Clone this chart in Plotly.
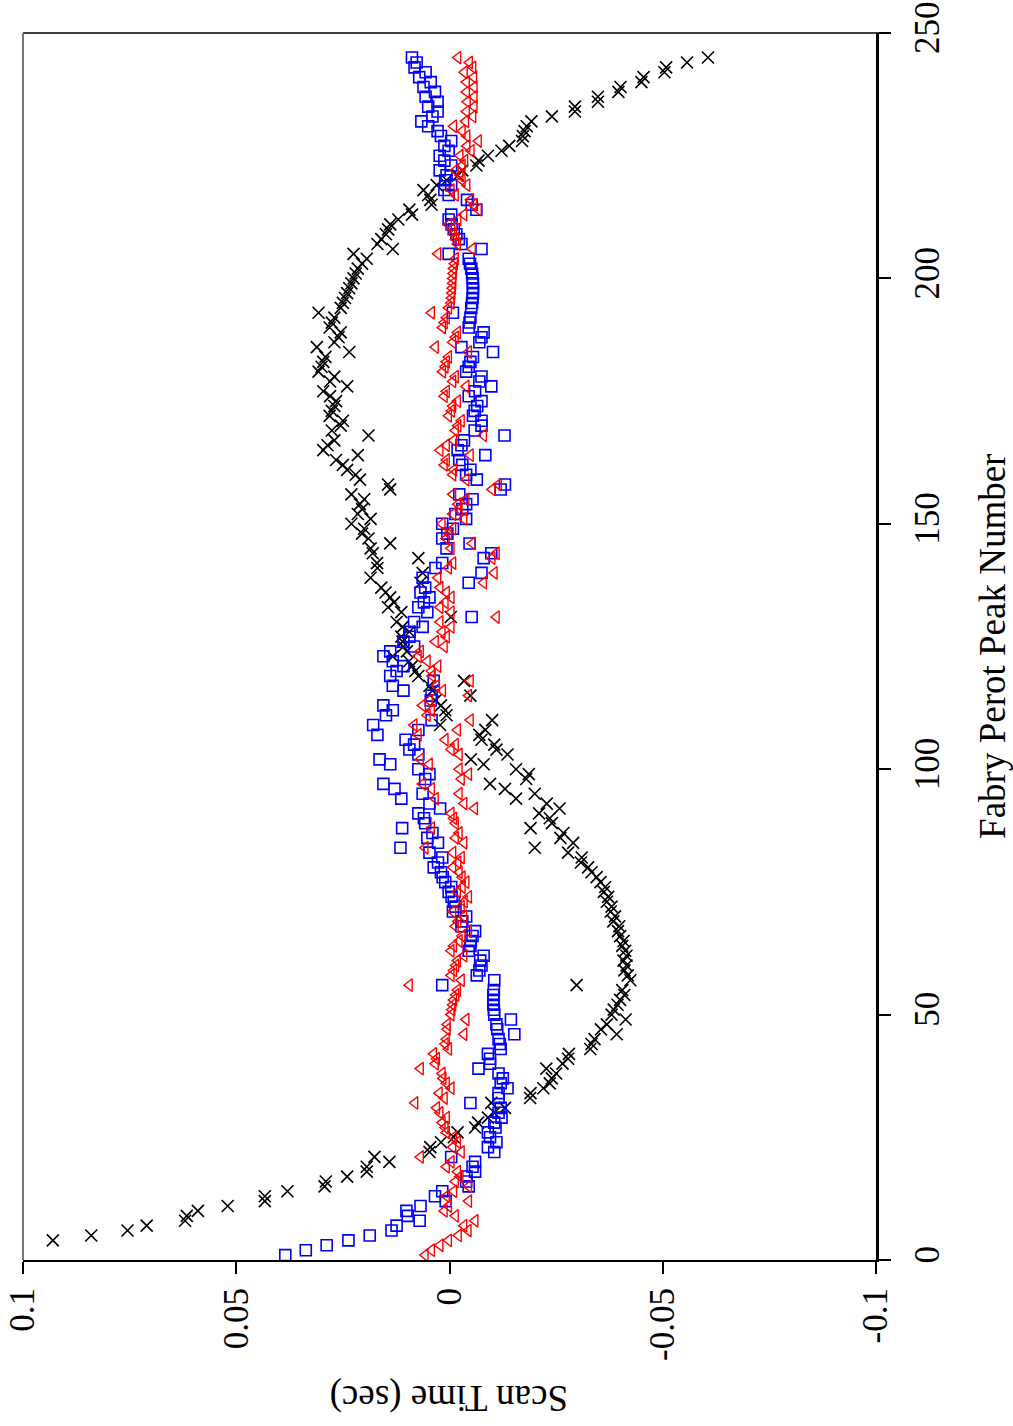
import plotly.graph_objects as go

peak = list(range(1, 246))

black_x = [
    None, None, None, 0.093, 0.084, 0.0755, 0.071, 0.062, 0.0616, 0.059,
    0.052, 0.0433, 0.0433, 0.038, 0.0293, 0.029, 0.024, 0.0194, 0.0194, 0.0141,
    0.0176, 0.0047, 0.0045, 0.002, -0.001, -0.0019, -0.006, -0.0067, -0.009, -0.0105,
    -0.013, -0.0098, -0.0189, -0.019, -0.022, -0.0235, -0.024, -0.025, -0.0227, -0.0265,
    -0.0278, -0.028, -0.033, -0.0333, -0.034, -0.0392, -0.0355, -0.0369, -0.0413, -0.038,
    -0.0385, -0.0394, -0.040, -0.041, -0.0405, -0.0298, -0.0424, -0.0418, -0.041, -0.0415,
    -0.0408, -0.0415, -0.0412, -0.0405, -0.0408, -0.040, -0.0395, -0.0398, -0.0384, -0.0388,
    -0.0378, -0.038, -0.0369, -0.0372, -0.0362, -0.0365, -0.0354, -0.0345, -0.0333, -0.0325,
    -0.0308, -0.031, -0.0278, -0.020, -0.029, -0.026, -0.0267, -0.019, -0.024, -0.0235,
    -0.021, -0.0258, -0.0228, -0.0156, -0.020, -0.013, -0.0095, -0.018, -0.0186, -0.0156,
    -0.008, -0.005, -0.0136, -0.011, -0.0105, -0.0075, -0.007, -0.0084, 0.0022, -0.010,
    0.0007, 0.001, 0.002, 0.0033, -0.0049, 0.004, 0.0047, -0.0034, 0.0073, 0.008,
    0.0088, 0.0095, 0.0133, 0.010, 0.0108, 0.011, 0.0113, 0.0094, 0.011, 0.0124,
    -0.0003, 0.0113, 0.0144, 0.013, 0.0139, 0.015, 0.016, 0.0068, 0.0185, 0.0063,
    0.0169, 0.017, 0.0073, 0.018, 0.0185, 0.0139, 0.019, 0.0205, 0.020, 0.023,
    0.0185, 0.0215, 0.0205, 0.021, 0.020, 0.023, 0.0139, 0.0144, 0.021, 0.022,
    0.024, 0.025, 0.0266, 0.0215, 0.0296, 0.0286, 0.027, 0.019, 0.0276, 0.0255,
    0.025, 0.0281, 0.0276, 0.027, 0.0266, 0.028, 0.0296, 0.024, 0.028, 0.027,
    0.0307, 0.030, 0.0296, 0.0291, 0.0235, 0.0311, 0.027, 0.026, 0.0255, 0.0281,
    0.0276, 0.027, 0.0307, 0.0255, 0.025, 0.0245, 0.024, 0.0235, 0.023, 0.0225,
    0.022, 0.0215, 0.0205, 0.0194, 0.0225, 0.0133, 0.0169, 0.016, 0.0149, 0.0144,
    0.0139, 0.012, 0.0088, 0.0094, 0.0042, 0.0045, 0.005, 0.0061, 0.003, 0.0007,
    -0.002, -0.003, -0.0063, -0.0068, -0.009, -0.0122, -0.014, -0.017, -0.0172, -0.0176,
    -0.0181, -0.0192, -0.024, -0.0294, -0.0294, -0.0348, -0.0348, -0.0396, -0.0401, -0.045,
    -0.0455, -0.0504, -0.0508, -0.0557, -0.0606,
]

blue_sq = [
    0.0385, 0.0337, 0.0288, 0.0237, 0.0187, 0.0136, 0.0124, 0.007, 0.0098, 0.0101,
    0.0068, 0.0009, 0.0034, 0.0017, -0.0045, -0.0039, -0.004, -0.006, -0.0054, -0.006,
    -0.0004, -0.0105, -0.009, -0.011, -0.0095, -0.009, -0.0108, -0.0105, -0.0122, -0.0115,
    -0.012, -0.0049, -0.0115, -0.0115, -0.0136, -0.012, -0.0125, -0.0115, -0.0068, -0.0095,
    -0.0095, -0.009, -0.012, -0.0118, -0.0115, -0.0152, -0.0112, -0.011, -0.0144, -0.0105,
    -0.0104, -0.0103, -0.0103, -0.0103, -0.0104, 0.0017, -0.0105, -0.0064, -0.007, -0.0075,
    -0.0072, -0.008, -0.0045, -0.0049, -0.005, -0.0054, -0.006, -0.0028, -0.003, -0.0039,
    -0.0008, -0.0014, -0.001, -0.0005, 0.0002, -0.0004, 0.001, 0.0016, 0.002, 0.0037,
    0.0027, 0.0017, 0.0047, 0.0115, 0.0027, 0.0052, 0.004, 0.0111, 0.0057, 0.006,
    0.0073, 0.0022, 0.0047, 0.0113, 0.0063, 0.0129, 0.0155, 0.0057, 0.0047, 0.0073,
    0.0139, 0.0164, 0.0073, 0.0094, 0.0083, 0.0103, 0.0169, 0.0073, 0.0179, 0.0042,
    0.0149, 0.0133, 0.0155, 0.0044, 0.0042, 0.0108, 0.0133, 0.0037, 0.0139, 0.0124,
    0.0108, 0.0133, 0.0155, 0.0139, 0.0083, 0.0108, 0.0094, 0.0094, 0.0063, 0.0083,
    -0.0052, 0.0052, 0.0073, 0.006, 0.0047, 0.0068, 0.0057, -0.0045, 0.0063, -0.0075,
    0.0033, 0.0017, -0.008, -0.0098, 0.0007, -0.0047, 0.0017, 0.0005, -0.0008, 0.0017,
    -0.0039, -0.0014, -0.003, -0.0039, -0.0054, -0.0023, -0.012, -0.013, -0.0064, -0.0039,
    -0.0049, -0.003, -0.0023, -0.0084, -0.0019, -0.0028, -0.0034, -0.0129, -0.0059, -0.0075,
    -0.0075, -0.0055, -0.0059, -0.0065, -0.0075, -0.0045, -0.006, -0.0098, -0.007, -0.0075,
    -0.0039, -0.0045, -0.0049, -0.0055, -0.0102, -0.0028, -0.007, -0.0075, -0.008, -0.0045,
    -0.0047, -0.0049, -0.0008, -0.0051, -0.0053, -0.0054, -0.0055, -0.0055, -0.0055, -0.0054,
    -0.0053, -0.0051, -0.0048, -0.0045, 0.0002, -0.0075, -0.0028, -0.0022, -0.0016, -0.001,
    -0.0005, 0.0002, -0.0004, -0.0063, -0.0052, -0.0041, 0.0002, 0.0012, -0.0004, 0.001,
    0.0007, 0.0023, -0.0004, 0.0012, 0.0023, 0.0002, 0.0012, -0.0004, 0.002, 0.0028,
    0.005, 0.0066, 0.004, 0.0028, 0.005, 0.0028, 0.0056, 0.0034, 0.0061, 0.0044,
    0.0071, 0.0056, 0.0082, 0.0077, 0.0088,
]

red_tri = [
    0.0057, 0.0042, 0.0022, 0.0002, -0.0021, -0.0044, -0.0034, -0.006, -0.0014, 0.0012,
    0.0002, -0.0045, 0.0007, -0.001, -0.0045, -0.0014, -0.0025, -0.0019, 0.0007, -0.0004,
    0.0068, -0.0028, -0.0008, -0.0019, -0.001, 0.0007, 0.001, 0.0017, 0.0007, 0.0022,
    0.003, 0.0081, 0.0012, 0.0024, -0.0004, 0.0007, 0.0015, 0.0017, 0.0068, 0.0033,
    0.003, 0.0037, 0.0002, 0.001, 0.0007, -0.0034, 0.0005, 0.0005, -0.0039, -0.0004,
    -0.0006, -0.0008, -0.001, -0.0015, -0.0019, 0.0094, -0.0028, -0.0004, -0.001, -0.0015,
    -0.0019, -0.0034, -0.0004, -0.001, -0.0023, -0.003, -0.0045, -0.0014, -0.002, -0.0034,
    -0.0008, -0.0028, -0.0035, -0.0045, -0.0019, -0.003, -0.0039, -0.003, -0.0023, -0.0008,
    -0.002, -0.0028, -0.0008, 0.0057, -0.0034, -0.0014, -0.0023, 0.0042, -0.0014, -0.001,
    -0.0004, -0.0059, -0.0034, 0.0033, -0.0023, 0.0042, 0.0063, -0.0028, -0.0045, -0.0023,
    0.0047, 0.0068, -0.0023, -0.0004, -0.0014, 0.001, 0.0073, -0.0019, 0.0083, -0.0049,
    0.0052, 0.0042, 0.0063, 0.0047, -0.0045, 0.0016, 0.003, -0.0049, 0.004, 0.0042,
    0.0027, 0.0052, 0.0073, 0.0068, 0.0012, 0.0033, 0.0007, 0.0017, -0.0004, 0.0022,
    -0.011, -0.0004, 0.0022, 0.001, -0.0004, 0.0007, 0.0022, -0.008, 0.0027, -0.0105,
    0.0002, -0.0008, -0.01, -0.011, -0.0004, -0.0054, 0.0007, 0.0002, -0.0008, 0.0017,
    -0.0034, -0.0008, -0.0023, -0.002, -0.0039, -0.0008, -0.01, -0.0115, -0.0039, -0.0008,
    -0.001, 0.0012, 0.0007, -0.0049, 0.0022, 0.0007, -0.001, -0.008, -0.0014, -0.002,
    -0.0028, 0.0002, -0.0005, -0.0008, -0.0019, 0.0012, 0.0007, -0.0039, -0.0008, -0.0014,
    0.0016, 0.001, 0.0007, 0.0002, -0.0045, 0.0033, -0.0008, -0.0014, -0.0019, 0.0016,
    0.0012, 0.0007, 0.0042, 0.0002, -0.0004, -0.0005, -0.0006, -0.0007, -0.0008, -0.0008,
    -0.0009, -0.001, -0.0012, -0.0014, 0.0027, -0.0054, -0.0019, -0.0015, -0.001, -0.0006,
    0.0002, -0.002, -0.0034, -0.0068, -0.0057, -0.005, -0.0014, -0.0004, -0.0041, -0.003,
    -0.0025, -0.0014, -0.003, -0.0036, -0.0025, -0.0051, -0.0041, -0.0068, -0.0041, -0.003,
    -0.001, -0.0038, -0.0055, -0.004, -0.0058, -0.0042, -0.0058, -0.004, -0.0058, -0.004,
    -0.0057, -0.0035, -0.0055, -0.0047, -0.002,
]

x_ticks = [0.1, 0.05, 0, -0.05, -0.1]
x_tick_text = ["0.1", "0.05", "0", "-0.05", "-0.1"]
y_ticks = [0, 50, 100, 150, 200, 250]

FONT = "Liberation Serif, Times New Roman, serif"

fig = go.Figure()
fig.add_trace(go.Scatter(
    x=black_x, y=peak, mode="markers", name="black",
    marker=dict(symbol="x-thin", size=12, line=dict(color="black", width=1.6), color="black"),
))
fig.add_trace(go.Scatter(
    x=blue_sq, y=peak, mode="markers", name="blue",
    marker=dict(symbol="square-open", size=11, color="#0000ff", line=dict(width=1.6)),
))
fig.add_trace(go.Scatter(
    x=red_tri, y=peak, mode="markers", name="red",
    marker=dict(symbol="triangle-left-open", size=11, color="#ff0000", line=dict(width=1.4)),
))

fig.update_layout(
    width=1013, height=1426,
    margin=dict(l=23, r=137, t=33, b=166),
    paper_bgcolor="white", plot_bgcolor="white",
    showlegend=False,
    font=dict(family=FONT, size=35, color="black"),
    xaxis=dict(
        range=[0.1, -0.1], tickvals=x_ticks, ticktext=x_tick_text, automargin=False,
        tickangle=-90, ticks="outside", ticklen=12, tickwidth=1.5, tickcolor="black",
        showgrid=False, zeroline=False, showline=True, linecolor="black", linewidth=2,
        tickfont=dict(family=FONT, size=35),
    ),
    yaxis=dict(
        range=[0, 250], tickvals=y_ticks, side="right", automargin=False,
        tickangle=-90, ticks="outside", ticklen=12, tickwidth=1.5, tickcolor="black",
        ticklabelstandoff=6,
        showgrid=False, zeroline=False, showline=True, linecolor="black", linewidth=2.5,
        tickfont=dict(family=FONT, size=35),
    ),
    shapes=[
        dict(type="line", xref="paper", yref="paper", x0=0, x1=1.013, y0=1, y1=1,
             line=dict(color="black", width=1.5)),
        dict(type="line", xref="paper", yref="paper", x0=0, x1=0, y0=0, y1=1,
             line=dict(color="#777777", width=2)),
    ],
    annotations=[
        dict(text="Scan Time (sec)", xref="paper", yref="paper", x=0.5, y=-0.1125,
             showarrow=False, textangle=180, font=dict(family=FONT, size=37),
             xanchor="center", yanchor="middle"),
        dict(text="Fabry Perot Peak Number", xref="paper", yref="paper", x=1.1365, y=0.5,
             showarrow=False, textangle=-90, font=dict(family=FONT, size=37),
             xanchor="center", yanchor="middle"),
    ],
)

fig.write_html("out.html")
